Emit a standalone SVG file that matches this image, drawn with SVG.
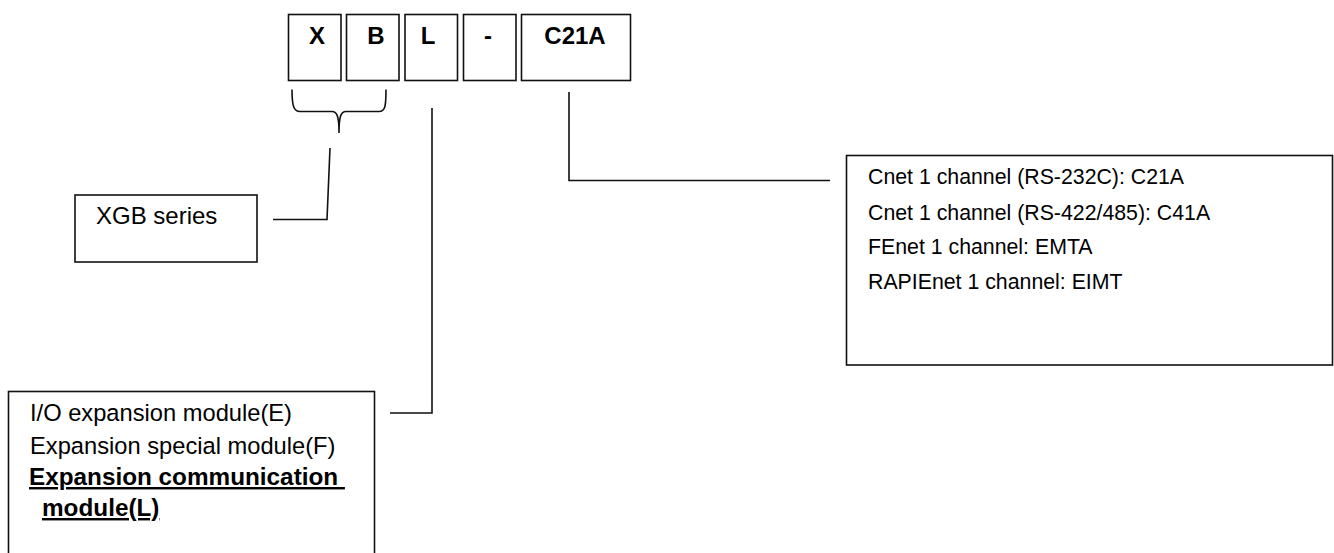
<svg xmlns="http://www.w3.org/2000/svg" width="1334" height="553" viewBox="0 0 1334 553">
<style>
.box{fill:#fff;stroke:#111;stroke-width:1.6}
.ln{fill:none;stroke:#111;stroke-width:1.6}
.code{font-family:"Liberation Sans",Arial,sans-serif;font-weight:bold;font-size:24px;fill:#000;text-anchor:middle}
.t{font-family:"Liberation Sans",Arial,sans-serif;fill:#000}
.ul{text-decoration:underline;font-weight:bold;white-space:pre}
</style>
<rect width="1334" height="553" fill="#fff"/>
<g id="code-X"><rect class="box" x="288.5" y="14.5" width="52.5" height="66"/><text class="code" x="317" y="44">X</text></g>
<g id="code-B"><rect class="box" x="346.5" y="14.5" width="52.5" height="66"/><text class="code" x="376" y="44">B</text></g>
<g id="code-L"><rect class="box" x="405" y="14.5" width="52.5" height="66"/><text class="code" x="428" y="44">L</text></g>
<g id="code-dash"><rect class="box" x="463.5" y="14.5" width="52.5" height="66"/><text class="code" x="488" y="44">-</text></g>
<g id="code-C21A"><rect class="box" x="521.5" y="14.5" width="109" height="66"/><text class="code" x="575" y="44">C21A</text></g>
<g id="xgb-series"><rect class="box" x="75" y="195" width="182" height="67"/><text class="t" x="96" y="224" font-size="24">XGB series</text></g>
<g id="module-type"><rect class="box" x="8.5" y="391.5" width="366" height="170"/>
<text class="t" x="30" y="421" font-size="23.7">I/O expansion module(E)</text>
<text class="t" x="30" y="454" font-size="23.7">Expansion special module(F)</text>
<text class="t ul" x="29" y="485" font-size="24.3">Expansion communication </text>
<text class="t ul" x="42" y="516" font-size="24.3">module(L)</text>
</g>
<g id="comm-type"><rect class="box" x="846.5" y="155.5" width="486" height="209.5"/>
<text class="t" x="868" y="184" font-size="21.3">Cnet 1 channel (RS-232C): C21A</text>
<text class="t" x="868" y="219.5" font-size="21.3">Cnet 1 channel (RS-422/485): C41A</text>
<text class="t" x="868" y="253.5" font-size="21.3">FEnet 1 channel: EMTA</text>
<text class="t" x="868" y="289" font-size="21.3">RAPIEnet 1 channel: EIMT</text>
</g>
<g id="connectors">
<path class="ln" d="M292,89.5 C292,107 294,111.5 300,111.5 L332,111.5 C337,111.5 339,116 339,133 C339,116 341,111.5 346,111.5 L379,111.5 C385,111.5 386,107 386,89.5"/>
<path class="ln" d="M330,148 L327,219.5 L273,219.5"/>
<path class="ln" d="M432,108 L432,413 L390,413"/>
<path class="ln" d="M569,92 L569,180.5 L830,180.5"/>
</g>
</svg>
